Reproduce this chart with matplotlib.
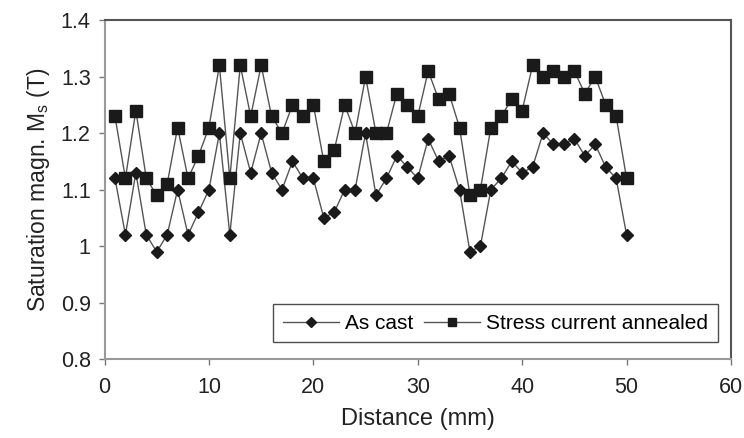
import numpy as np
import matplotlib.pyplot as plt

plt.rcParams['font.family'] = ['Liberation Sans', 'DejaVu Sans']

# Distance along the ribbon (mm)
distance = np.arange(1, 51)

# Saturation magnetisation (T)
as_cast = [1.12, 1.02, 1.13, 1.02, 0.99, 1.02, 1.10, 1.02, 1.06, 1.10,
           1.20, 1.02, 1.20, 1.13, 1.20, 1.13, 1.10, 1.15, 1.12, 1.12,
           1.05, 1.06, 1.10, 1.10, 1.20, 1.09, 1.12, 1.16, 1.14, 1.12,
           1.19, 1.15, 1.16, 1.10, 0.99, 1.00, 1.10, 1.12, 1.15, 1.13,
           1.14, 1.20, 1.18, 1.18, 1.19, 1.16, 1.18, 1.14, 1.12, 1.02]
annealed = [1.23, 1.12, 1.24, 1.12, 1.09, 1.11, 1.21, 1.12, 1.16, 1.21,
            1.32, 1.12, 1.32, 1.23, 1.32, 1.23, 1.20, 1.25, 1.23, 1.25,
            1.15, 1.17, 1.25, 1.20, 1.30, 1.20, 1.20, 1.27, 1.25, 1.23,
            1.31, 1.26, 1.27, 1.21, 1.09, 1.10, 1.21, 1.23, 1.26, 1.24,
            1.32, 1.30, 1.31, 1.30, 1.31, 1.27, 1.30, 1.25, 1.23, 1.12]

fig = plt.figure(figsize=(7.44, 4.38), dpi=100)
ax = fig.add_axes([0.1405, 0.18, 0.842, 0.774])

ax.plot(distance, as_cast, color='#555555', lw=1.0, marker='D', markersize=6.5,
        markerfacecolor='#1a1a1a', markeredgecolor='#1a1a1a', label='As cast')
ax.plot(distance, annealed, color='#555555', lw=1.0, marker='s', markersize=8,
        markerfacecolor='#1a1a1a', markeredgecolor='#1a1a1a',
        label='Stress current annealed')

ax.set_xlim(0, 60)
ax.set_ylim(0.8, 1.4)
ax.set_xticks(range(0, 61, 10))
ax.set_yticks([0.8, 0.9, 1.0, 1.1, 1.2, 1.3, 1.4])
ax.set_yticklabels(['0.8', '0.9', '1', '1.1', '1.2', '1.3', '1.4'])
ax.tick_params(labelsize=15.5, colors='#777777', labelcolor='#222222', length=4, width=1)
ax.tick_params(axis='x', pad=9)
ax.tick_params(axis='y', pad=6)

for side in ['left', 'bottom']:
    ax.spines[side].set_color('#999999')
    ax.spines[side].set_linewidth(1.5)
for side in ['top', 'right']:
    ax.spines[side].set_color('#555555')
    ax.spines[side].set_linewidth(1.5)

ax.set_xlabel('Distance (mm)', fontsize=17, color='#222222', labelpad=7)
ax.set_ylabel('Saturation magn. M$_\\mathregular{s}$ (T)', fontsize=16.5, color='#222222',
              labelpad=6)

leg = ax.legend(loc='lower right', ncol=2, fontsize=15, frameon=True, fancybox=False,
                edgecolor='#222222', handlelength=2.7, columnspacing=0.5,
                handletextpad=0.3, borderpad=0.45, borderaxespad=0,
                bbox_to_anchor=(0.979, 0.05))
leg.get_frame().set_linewidth(1.0)
for h in leg.legend_handles:
    h.set_markersize(5.5)

fig.savefig('out.png', dpi=100)
